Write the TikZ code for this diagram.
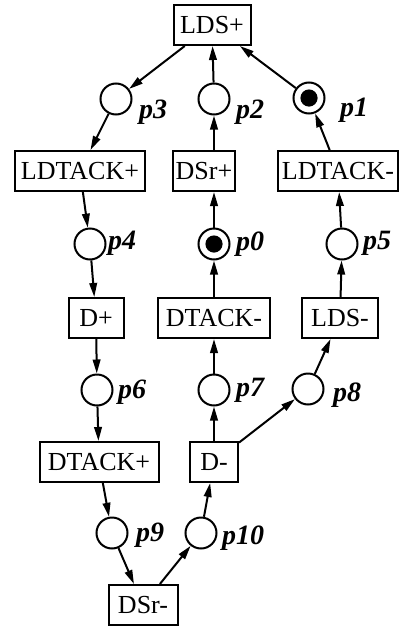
\documentclass[tikz,border=0pt]{standalone}
\usepackage{fontspec}
\setmainfont{Liberation Serif}
\usetikzlibrary{arrows.meta}
\begin{document}
\begin{tikzpicture}[x=0.5pt, y=-0.5pt, line width=1pt,
		    trans/.style={draw, rectangle, minimum height=20pt, inner xsep=1pt,
		    			  font=\fontsize{13}{15}\selectfont},
		    place/.style={draw, circle, minimum size=15.5pt, inner sep=0pt},
		    token/.style={place, path picture={\fill (path picture bounding box.center) circle (4.3pt);}},
		    plabel/.style={inner sep=0pt, font=\fontsize{14}{16}\selectfont\bfseries\itshape},
		    arc/.style={-{Triangle[length=7pt,width=3.8pt]}}]
	\useasboundingbox (0,0) rectangle (401,627);
	% transitions
	\node[trans, minimum width=38.5pt] (ldsp)    at (212, 25)  {LDS+};
	\node[trans, minimum width=65pt]   (ldtackp) at (80, 171)  {LDTACK+};
	\node[trans, minimum width=30pt, inner xsep=1.5pt] (dsrp) at (204, 171) {DSr+};
	\node[trans, minimum width=60pt]   (ldtackm) at (338, 171) {LDTACK-};
	\node[trans, minimum width=27.5pt] (dp)      at (96, 318)  {D+};
	\node[trans, minimum width=56pt]   (dtackm)  at (214, 318) {DTACK-};
	\node[trans, minimum width=38pt]   (ldsm)    at (340, 318) {LDS-};
	\node[trans, minimum width=59.5pt] (dtackp)  at (99, 462)  {DTACK+};
	\node[trans, minimum width=24pt]   (dm)      at (214, 462) {D-};
	\node[trans, minimum width=34.5pt] (dsrm)    at (143, 605) {DSr-};
	% places
	\node[place] (p3)  at (116, 99)  {};
	\node[place] (p2)  at (214, 99)  {};
	\node[token] (p1)  at (309, 98)  {};
	\node[place] (p4)  at (90, 244)  {};
	\node[token] (p0)  at (214, 244) {};
	\node[place] (p5)  at (342, 244) {};
	\node[place] (p6)  at (97, 390)  {};
	\node[place] (p7)  at (214, 390) {};
	\node[place] (p8)  at (308, 389) {};
	\node[place] (p9)  at (112, 533) {};
	\node[place] (p10) at (201, 533) {};
	% place labels
	\node[plabel] (lp3)  at (153, 112) {p3};
	\node[plabel] (lp2)  at (250, 112) {p2};
	\node[plabel] (lp1)  at (354, 110) {p1};
	\node[plabel] (lp4)  at (122, 243) {p4};
	\node[plabel] (lp0)  at (250, 244) {p0};
	\node[plabel] (lp5)  at (377, 243) {p5};
	\node[plabel] (lp6)  at (132, 392) {p6};
	\node[plabel] (lp7)  at (250, 390) {p7};
	\node[plabel] (lp8)  at (347, 395) {p8};
	\node[plabel] (lp9)  at (150, 535) {p9};
	\node[plabel] (lp10) at (243, 538) {p10};
	% arcs
	\path[arc] (ldsp)    edge (p3);
	\path[arc] (p2)      edge (ldsp);
	\path[arc] (p1)      edge (ldsp);
	\path[arc] (p3)      edge (ldtackp);
	\path[arc] (dsrp.north -| p2) edge (p2);
	\path[arc] (ldtackm) edge (p1);
	\path[arc] (ldtackp) edge (p4);
	\path[arc] (p0)      edge (p0 |- dsrp.south);
	\path[arc] (p5)      edge (ldtackm);
	\path[arc] (p4)      edge (dp);
	\path[arc] (dtackm)  edge (p0);
	\path[arc] (ldsm)    edge (p5);
	\path[arc] (dp)      edge (p6);
	\path[arc] (p7)      edge (dtackm);
	\path[arc] (p8)      edge (ldsm);
	\path[arc] (p6)      edge (dtackp);
	\path[arc] (dm)      edge (p7);
	\path[arc] (dm)      edge (p8);
	\path[arc] (dtackp)  edge (p9);
	\path[arc] (p10)     edge (dm);
	\path[arc] (p9)      edge (dsrm);
	\path[arc] (dsrm)    edge (p10);
\end{tikzpicture}
\end{document}
